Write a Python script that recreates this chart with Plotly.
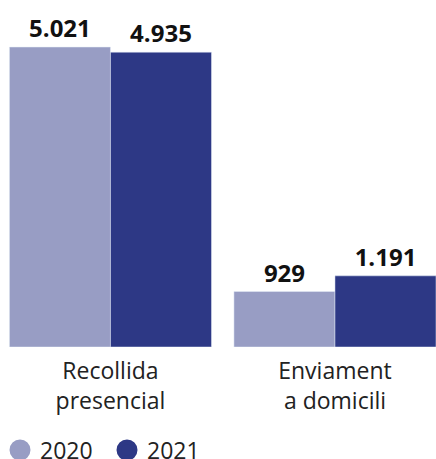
import plotly.graph_objects as go

categories = ["Recollida<br>presencial", "Enviament<br>a domicili"]
years = ["2020", "2021"]
values_2020 = [5021, 929]
values_2021 = [4935, 1191]
colors = {"2020": "#989dc4", "2021": "#2d3885"}

fig = go.Figure()
for yr, vals in zip(years, [values_2020, values_2021]):
    fig.add_trace(go.Bar(
        x=[0, 1], y=vals, name=yr, marker_color=colors[yr], showlegend=False,
        texttemplate="%{y:,}", textposition="outside", cliponaxis=False,
        textfont=dict(family="Open Sans", size=24, color="#111111", weight="bold"),
        hoverinfo="skip",
    ))
    fig.add_trace(go.Scatter(
        x=[None], y=[None], mode="markers", name=yr,
        marker=dict(symbol="circle", size=16, color=colors[yr],
                    line=dict(width=5, color=colors[yr])),
    ))

fig.update_layout(
    width=436, height=459,
    margin=dict(l=0, r=0, t=0, b=112, autoexpand=False),
    paper_bgcolor="white", plot_bgcolor="white",
    barmode="group", bargap=0.1, bargroupgap=0,
    separators=",.",
    font=dict(family="Open Sans", size=23, color="#222222"),
    xaxis=dict(
        tickmode="array", tickvals=[0, 1], ticktext=categories,
        range=[-0.492, 1.45], showgrid=False, zeroline=False, showline=False,
        ticks="", tickfont=dict(size=23, color="#222222"), automargin=False,
        ticklabelstandoff=8,
    ),
    yaxis=dict(range=[0, 5808], visible=False, automargin=False),
    legend=dict(orientation="h", x=0, xanchor="left", y=-0.297, yanchor="middle",
                font=dict(size=23, color="#222222"), itemsizing="trace",
                itemwidth=30, tracegroupgap=0,
                entrywidth=62, entrywidthmode="pixels"),
)
fig.write_html("out.html", config={"displayModeBar": False},
               post_script="document.body.style.margin='0';")
